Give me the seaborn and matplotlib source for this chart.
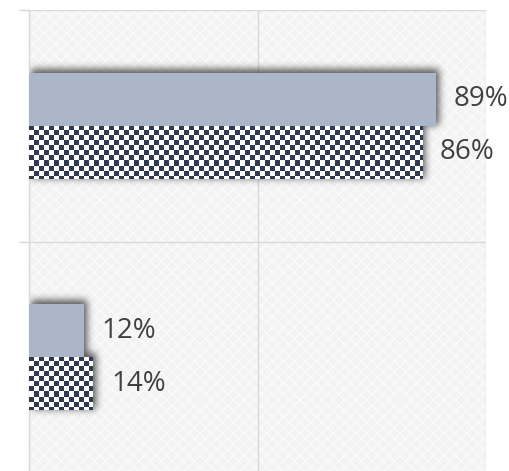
import numpy as np
import pandas as pd
import matplotlib
matplotlib.use("Agg")
import matplotlib.pyplot as plt
import seaborn as sns

categories = ["Category 1", "Category 2"]
series = ["Series 1", "Series 2"]
series1_values = [0.89, 0.12]
series2_values = [0.86, 0.14]

df = pd.DataFrame({
    "category": categories * 2,
    "series": [series[0]] * len(categories) + [series[1]] * len(categories),
    "value": series1_values + series2_values,
})

sns.set_theme(style="white")
plt.rcParams["font.family"] = ["Open Sans", "DejaVu Sans"]
plt.rcParams["hatch.color"] = "#fafafa"
plt.rcParams["hatch.linewidth"] = 1.0

SOLID = "#abb6c9"
DARK = "#2f3a50"
GRID = "#d9d9d9"

W_PX, H_PX = 510, 471
fig = plt.figure(figsize=(W_PX / 100, H_PX / 100), dpi=100)
ax = fig.add_axes([29 / W_PX, -2 / H_PX, (486 - 29) / W_PX, (473 - 10) / H_PX])

sns.barplot(data=df, y="category", x="value", hue="series", orient="h",
            width=0.46, palette=[SOLID, "white"], saturation=1,
            legend=False, ax=ax, errorbar=None, zorder=3)

ax.set_xlim(0, 1)
ax.set_ylim(1.5, -0.5)

# background texture
ax.set_facecolor("#f3f3f3")
ax.patch.set_hatch("xxx")
ax.patch.set_edgecolor("#fafafa")
ax.patch.set_linewidth(0)

# grid
ax.set_xticks([0, 0.5, 1.0])
ax.set_yticks([-0.5, 0.5, 1.5])
ax.set_xticklabels([])
ax.set_yticklabels([])
ax.grid(True, color=GRID, linewidth=1.0, zorder=0)
ax.set_axisbelow(True)
ax.tick_params(axis="x", length=0)
ax.tick_params(axis="y", length=7, width=1.0, color=GRID, direction="out", left=True)
for s in ["top", "right", "bottom"]:
    ax.spines[s].set_visible(False)
ax.spines["left"].set_color(GRID)
ax.spines["left"].set_linewidth(1.0)
ax.set_xlabel("")
ax.set_ylabel("")

fig.canvas.draw()
px_per_x = ax.transData.transform((1, 0))[0] - ax.transData.transform((0, 0))[0]
px_per_y = abs(ax.transData.transform((0, 1))[1] - ax.transData.transform((0, 0))[1])

# soft drop shadow computed from the bar patches
ab = ax.get_window_extent()
aw, ah = int(round(ab.width)), int(round(ab.height))
mask = np.zeros((ah, aw))
for cont in ax.containers:
    for bar in cont:
        bb = bar.get_window_extent()
        x0 = int(round(bb.x0 - ab.x0)) + 2
        x1 = int(round(bb.x1 - ab.x0)) + 3
        r0 = int(round(ab.y1 - bb.y1)) - 4
        r1 = int(round(ab.y1 - bb.y0)) - 1
        mask[max(r0, 0):max(r1, 0), max(x0, 0):max(x1, 0)] = 1.0
sigma = 3.8
k = np.arange(-13, 14)
g = np.exp(-k ** 2 / (2 * sigma ** 2))
g /= g.sum()
blur = np.apply_along_axis(lambda r: np.convolve(r, g, mode="same"), 1, mask)
blur = np.apply_along_axis(lambda c: np.convolve(c, g, mode="same"), 0, blur)
shadow = np.zeros((ah, aw, 4))
shadow[..., 3] = blur * 0.65
ax.imshow(shadow, extent=(0, 1, 0, 1), transform=ax.transAxes, aspect="auto",
          interpolation="nearest", zorder=2.5)

CELL = 5
for i, cont in enumerate(ax.containers):
    for bar in cont:
        bar.set_edgecolor("none")
        if i == 1:
            x0, y0 = bar.get_x(), bar.get_y()
            w, h = bar.get_width(), bar.get_height()
            nx = int(np.ceil(w * px_per_x))
            ny = int(np.ceil(h * px_per_y))
            xs, ys = np.meshgrid(np.arange(nx), np.arange(ny))
            m = ((xs // CELL) + (ys // CELL)) % 2 == 0
            img = np.ones((ny, nx, 3))
            img[m] = np.array(matplotlib.colors.to_rgb(DARK))
            im = ax.imshow(img, extent=(x0, x0 + nx / px_per_x,
                                        y0 + ny / px_per_y, y0),
                           aspect="auto", interpolation="nearest", zorder=4)
            im.set_clip_path(bar)
    labels = [f"{v * 100:.0f}%" for v in cont.datavalues]
    ax.bar_label(cont, labels=labels, padding=13, fontsize=20, color="#404040", zorder=5)

ax.set_xlim(0, 1)
ax.set_ylim(1.5, -0.5)

fig.savefig("out.png", dpi=100)
